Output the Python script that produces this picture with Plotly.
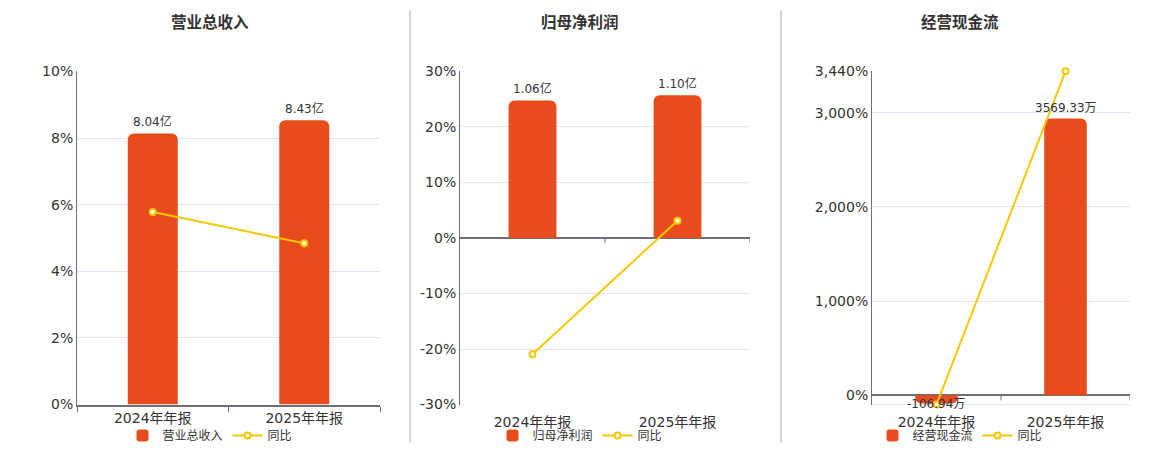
import plotly.graph_objects as go

# ---------------- data ----------------
categories = ["2024年年报", "2025年年报"]

titles = ["营业总收入", "归母净利润", "经营现金流"]

revenue = [8.04, 8.43]            # 亿
revenue_yoy = [5.78, 4.84]        # %
profit = [1.06, 1.10]             # 亿
profit_yoy = [-20.95, 3.12]       # %
cashflow = [-106.94, 3569.33]     # 万
cashflow_yoy = [-98.0, 3440.0]    # %

units = ["亿", "亿", "万"]

p1_ticks = [0, 2, 4, 6, 8, 10]
p1_ticktext = ["0%", "2%", "4%", "6%", "8%", "10%"]
p2_ticks = [-30, -20, -10, 0, 10, 20, 30]
p2_ticktext = ["-30%", "-20%", "-10%", "0%", "10%", "20%", "30%"]
p3_ticks = [0, 1000, 2000, 3000, 3440]
p3_ticktext = ["0%", "1,000%", "2,000%", "3,000%", "3,440%"]

# ---------------- style ----------------
W, H = 1160, 450
# vertical calibration of the rendered page (observed)
Y0, HE = 7.5, 435.0


def yp(px):
    """paper fraction (from bottom) for a target pixel row"""
    return 1 - (px - Y0) / HE


BAR = "#E84C1D"
LINE = "#F5C800"
GRID = "#E0E6F1"
AXIS = "#6E7079"
TXT = "#333333"
FONT = "DejaVu Sans, Noto Sans CJK SC, sans-serif"

panels = [
    dict(title=titles[0], bars=revenue, yoy=revenue_yoy, unit=units[0],
         ticks=p1_ticks, ticktext=p1_ticktext, lrange=[0, 10], brange=[0, 9.88],
         xdom=[77, 380], center=210, zero_mid=False),
    dict(title=titles[1], bars=profit, yoy=profit_yoy, unit=units[1],
         ticks=p2_ticks, ticktext=p2_ticktext, lrange=[-30, 30], brange=[-1.284, 1.284],
         xdom=[460, 750], center=580, zero_mid=True),
    dict(title=titles[2], bars=cashflow, yoy=cashflow_yoy, unit=units[2],
         ticks=p3_ticks, ticktext=p3_ticktext, lrange=[-98, 3440], brange=[-122, 4178],
         xdom=[872, 1130], center=960, zero_mid=True),
]

ydom = [yp(405), yp(71)]

fig = go.Figure()
layout = {}
shapes = []
annotations = []

for i, p in enumerate(panels):
    xa = "x" if i == 0 else f"x{i+1}"
    ybn = 2 * i + 1
    yln = 2 * i + 2
    yb = "y" if ybn == 1 else f"y{ybn}"
    yl = f"y{yln}"
    leg = "legend" if i == 0 else f"legend{i+1}"

    fig.add_trace(go.Bar(
        x=categories, y=p["bars"], xaxis=xa, yaxis=yb, width=0.33,
        marker=dict(color=BAR, cornerradius=6, line=dict(width=0)),
        name=p["title"], legend=leg, showlegend=True,
    ))
    fig.add_trace(go.Scatter(
        x=categories, y=p["yoy"], xaxis=xa, yaxis=yl, mode="lines+markers",
        line=dict(color=LINE, width=2),
        marker=dict(size=6, color="white", line=dict(color=LINE, width=2)),
        name="同比", legend=leg, cliponaxis=False,
    ))

    xkey = "xaxis" if i == 0 else f"xaxis{i+1}"
    xcfg = dict(
        domain=[p["xdom"][0] / W, p["xdom"][1] / W], anchor=yb, type="category",
        range=[-0.5, 1.5], showgrid=False, zeroline=False,
        tickfont=dict(size=14, color=TXT, family=FONT),
        ticks="outside", ticklen=5,
    )
    if not p["zero_mid"]:
        xcfg.update(showline=True, linecolor=AXIS, linewidth=2,
                    tickson="boundaries", tickcolor=AXIS)
    else:
        xcfg.update(showline=False, tickcolor="rgba(0,0,0,0)")
    layout[xkey] = xcfg

    bkey = "yaxis" if ybn == 1 else f"yaxis{ybn}"
    layout[bkey] = dict(domain=ydom, anchor=xa, range=p["brange"], visible=False,
                        showgrid=False, zeroline=False)
    layout[f"yaxis{yln}"] = dict(
        overlaying=yb, anchor=xa, side="left", range=p["lrange"],
        tickvals=p["ticks"], ticktext=p["ticktext"],
        showgrid=True, gridcolor=GRID, gridwidth=1,
        showline=True, linecolor=AXIS, linewidth=1, ticks="",
        zeroline=p["zero_mid"], zerolinecolor=AXIS, zerolinewidth=2,
        tickfont=dict(size=14, color=TXT, family=FONT),
    )

    if p["zero_mid"]:
        for b in [0.5, 1.5]:
            shapes.append(dict(type="line", xref=xa, yref=yl, x0=b, x1=b,
                               ysizemode="pixel", yanchor=0, y0=0, y1=-5,
                               line=dict(color=AXIS, width=1)))
    if i == 2:
        shapes.append(dict(type="line", xref=f"{xa} domain", yref=f"{yl} domain",
                           x0=0, x1=1, y0=0, y1=0, line=dict(color=GRID, width=1),
                           layer="below"))

    for c, v in zip(categories, p["bars"]):
        annotations.append(dict(
            x=c, y=v, xref=xa, yref=yb, text=f"{v:.2f}{p['unit']}", showarrow=False,
            yanchor="bottom" if v >= 0 else "middle", yshift=2 if v >= 0 else -1,
            font=dict(size=12, color=TXT, family=FONT),
        ))

    annotations.append(dict(
        x=p["center"] / W, y=yp(22), xref="paper", yref="paper",
        text=f"<b>{p['title']}</b>", showarrow=False, yanchor="middle", xanchor="center",
        font=dict(size=15.5, color=TXT, family=FONT),
    ))

    layout[leg] = dict(
        orientation="h", x=p["center"] / W, xanchor="center", y=yp(436),
        yanchor="middle", font=dict(size=12, color=TXT, family=FONT),
        itemwidth=30, bgcolor="rgba(0,0,0,0)", tracegroupgap=0,
    )

for sx in [410, 781]:
    shapes.append(dict(type="line", xref="paper", yref="paper",
                       x0=sx / W, x1=sx / W, y0=yp(10), y1=yp(443),
                       line=dict(color="#AAAAAA", width=1)))

fig.update_layout(
    width=W, height=H, autosize=False,
    margin=dict(l=0, r=0, t=0, b=0),
    paper_bgcolor="white", plot_bgcolor="white",
    font=dict(family=FONT, color=TXT),
    shapes=shapes, annotations=annotations,
    **layout,
)

fig.write_html(
    "out.html",
    config={"displayModeBar": False},
    post_script="document.body.style.margin='0';document.body.style.overflow='hidden';",
)
